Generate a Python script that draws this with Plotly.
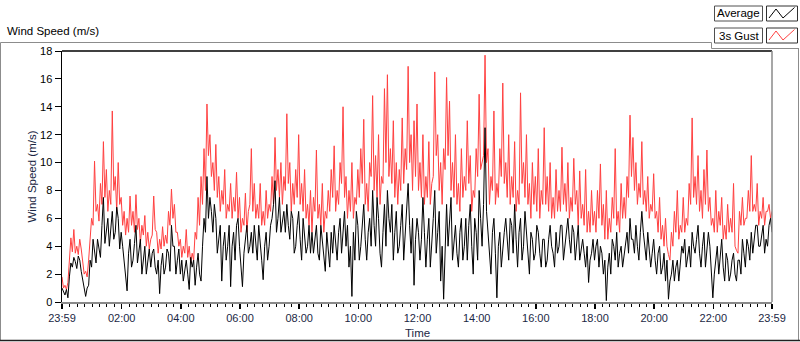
import pandas as pd
import plotly.graph_objects as go

# ---------------- data ----------------
# samples every 3 minutes from 23:59; "_a" = values at 23:59 + 6k min, "_b" = values 3 min later
start_time = "2000-01-01 23:59"
interval = "3min"

avg_a = [
    1.0, 0.5, 0.3, 2.8, 3.2, 2.4, 3.0, 1.5, 0.4, 1.2,
    2.5, 3.5, 4.5, 3.2, 7.5, 5.0, 4.0, 6.5, 5.0, 6.0,
    5.0, 3.0, 0.8, 4.5, 3.0, 5.5, 3.5, 2.0, 4.0, 2.8,
    2.5, 3.8, 2.0, 0.6, 3.5, 2.5, 3.5, 5.5, 4.0, 3.0,
    2.0, 1.5, 3.0, 0.9, 2.5, 1.2, 3.5, 1.5, 6.0, 9.0,
    7.5, 5.0, 6.0, 4.5, 1.5, 5.0, 4.0, 1.1, 5.0, 5.5,
    4.0, 1.1, 4.5, 3.5, 5.0, 5.5, 3.0, 4.5, 1.6, 5.0,
    4.0, 6.0, 8.7, 6.0, 5.0, 6.5, 7.0, 4.5, 6.0, 4.0,
    6.5, 3.0, 5.0, 4.0, 3.5, 3.5, 5.5, 3.0, 4.5, 2.2,
    4.0, 5.0, 5.5, 3.0, 6.0, 5.0, 4.0, 2.5, 0.4, 3.0,
    5.5, 4.0, 7.0, 3.0, 6.0, 8.0, 4.0, 6.0, 2.5, 7.0,
    8.0, 5.0, 3.0, 6.5, 4.0, 7.0, 5.0, 8.5, 3.5, 1.2,
    6.0, 3.0, 7.5, 2.5, 6.0, 4.0, 8.0, 5.0, 1.5, 0.2,
    7.0, 6.0, 3.0, 5.5, 2.5, 6.0, 4.0, 3.0, 7.0, 2.0,
    5.0, 8.0, 4.0, 12.5, 5.0, 2.0, 6.0, 0.3, 5.0, 4.0,
    6.0, 3.0, 5.5, 7.0, 2.5, 6.0, 4.0, 5.0, 2.0, 4.5,
    3.5, 5.0, 2.5, 4.5, 3.0, 5.5, 3.5, 5.0, 4.0, 5.5,
    4.0, 6.0, 3.5, 5.0, 4.0, 3.0, 4.5, 2.5, 1.4, 3.5,
    3.0, 4.5, 4.0, 2.0, 0.1, 3.5, 4.5, 3.0, 2.5, 4.0,
    3.5, 5.0, 6.0, 4.5, 5.5, 3.0, 6.5, 4.0, 5.0, 2.5,
    4.5, 2.0, 4.0, 2.5, 1.5, 0.2, 2.0, 1.5, 3.0, 2.5,
    3.5, 2.5, 4.0, 5.0, 3.5, 5.5, 2.5, 5.0, 3.5, 4.0,
    0.3, 3.0, 2.0, 4.5, 1.5, 3.0, 2.0, 3.5, 1.5, 3.0,
    4.5, 2.5, 4.0, 5.0, 4.5, 5.5, 4.0, 5.5, 4.5, 5.5, 5.0,
]
avg_b = [
    0.7, 0.9, 1.8, 2.5, 2.9, 3.3, 2.2, 0.8, 1.0, 3.0,
    4.5, 2.8, 3.8, 5.5, 4.2, 6.0, 5.2, 4.5, 6.8, 3.8,
    4.0, 2.2, 3.5, 2.5, 4.2, 2.8, 4.5, 3.2, 2.0, 3.8,
    3.5, 2.5, 3.0, 2.6, 2.0, 3.8, 2.2, 4.0, 2.0, 3.8,
    3.0, 2.5, 2.0, 3.2, 3.0, 2.5, 2.0, 4.0, 5.0, 6.0,
    6.5, 7.0, 3.5, 5.5, 4.0, 3.0, 5.5, 4.0, 3.0, 6.0,
    2.5, 3.5, 5.5, 4.0, 3.5, 4.5, 5.5, 3.0, 4.0, 3.0,
    5.5, 7.0, 5.0, 7.5, 6.0, 5.0, 5.5, 6.5, 3.5, 5.5,
    4.5, 6.0, 3.5, 5.5, 5.0, 4.5, 3.5, 5.5, 3.5, 5.0,
    2.5, 3.5, 4.5, 5.0, 3.5, 6.5, 5.5, 4.0, 5.0, 6.5,
    3.0, 5.5, 4.5, 5.0, 4.0, 5.5, 7.5, 3.5, 5.0, 4.0,
    6.0, 7.0, 5.0, 3.5, 5.5, 3.0, 6.5, 5.5, 6.0, 4.5,
    5.0, 4.5, 5.0, 4.5, 2.5, 6.0, 3.5, 6.5, 4.0, 4.5,
    4.0, 7.5, 4.5, 3.5, 5.0, 3.0, 6.0, 5.5, 4.0, 6.0,
    3.0, 6.0, 7.0, 6.5, 3.5, 5.0, 3.5, 4.0, 2.5, 5.0,
    4.5, 6.0, 3.5, 4.5, 5.0, 3.0, 6.5, 3.5, 5.0, 3.0,
    5.5, 3.5, 4.5, 2.5, 4.5, 4.0, 2.5, 3.5, 5.5, 3.0,
    5.0, 4.5, 5.5, 3.0, 5.5, 4.0, 3.5, 4.0, 3.0, 4.5,
    4.0, 2.5, 3.5, 3.0, 2.5, 2.0, 4.0, 5.0, 3.5, 2.5,
    4.5, 3.5, 4.5, 3.5, 4.0, 5.0, 5.0, 3.0, 4.0, 3.5,
    3.0, 3.5, 2.0, 3.5, 3.0, 1.5, 3.0, 2.5, 1.5, 4.0,
    4.5, 3.5, 2.5, 4.0, 4.5, 3.5, 4.0, 2.5, 5.0, 2.5,
    2.0, 4.0, 3.5, 2.5, 3.5, 1.5, 3.0, 2.0, 3.0, 2.0,
    3.5, 4.5, 3.0, 3.5, 5.5, 4.0, 5.0, 3.5, 4.0, 6.0,
]

gust_a = [
    1.8, 1.2, 1.4, 4.6, 5.2, 4.0, 4.5, 2.8, 2.2, 3.0,
    6.0, 10.1, 7.0, 8.5, 11.5, 9.5, 8.0, 13.7, 9.0, 10.0,
    7.5, 6.5, 6.0, 7.6, 6.5, 7.7, 6.0, 5.5, 6.2, 5.0,
    4.5, 7.6, 5.0, 4.5, 5.4, 4.8, 6.5, 8.1, 7.0, 5.0,
    4.5, 4.0, 5.2, 4.0, 3.5, 5.0, 7.5, 9.0, 11.0, 14.2,
    12.0, 10.0, 11.3, 9.0, 8.0, 9.5, 7.0, 8.5, 7.5, 9.3,
    7.5, 6.0, 7.8, 6.5, 11.0, 8.5, 7.0, 8.5, 6.5, 8.0,
    7.0, 9.0, 11.8, 9.5, 10.0, 9.0, 13.5, 10.0, 8.5, 9.5,
    12.0, 8.5, 9.5, 7.0, 8.0, 7.5, 10.9, 7.0, 8.5, 6.5,
    8.0, 9.5, 11.2, 8.0, 10.0, 14.0, 9.0, 8.0, 10.0, 7.5,
    9.5, 11.0, 13.1, 8.5, 10.0, 14.8, 10.5, 12.0, 9.0, 15.3,
    16.3, 11.0, 13.0, 10.0, 9.5, 13.2, 11.0, 16.9, 12.0, 13.0,
    14.2, 10.0, 12.0, 9.0, 11.5, 8.5, 16.5, 12.0, 10.0, 11.0,
    16.1, 14.4, 10.0, 12.0, 8.5, 11.0, 9.0, 13.0, 10.5, 8.0,
    11.0, 14.9, 10.0, 17.7, 11.0, 9.0, 13.7, 8.5, 11.0, 15.7,
    10.0, 12.0, 9.0, 11.5, 8.0, 15.0, 10.0, 12.0, 8.5, 10.0,
    9.0, 11.0, 8.0, 12.5, 9.0, 10.0, 7.5, 9.5, 8.0, 11.1,
    8.5, 10.0, 7.5, 10.3, 8.0, 9.4, 7.0, 9.5, 6.5, 8.0,
    6.5, 8.0, 9.9, 7.0, 8.0, 6.0, 7.5, 11.0, 6.5, 8.5,
    7.5, 9.0, 13.4, 11.8, 10.0, 8.5, 11.5, 8.0, 9.0, 7.0,
    9.2, 6.5, 7.5, 5.5, 6.0, 3.4, 5.0, 6.5, 8.0, 5.5,
    7.5, 6.0, 8.5, 13.2, 9.0, 10.5, 8.0, 9.5, 10.9, 7.5,
    6.0, 8.0, 6.5, 7.5, 5.5, 7.0, 6.0, 8.5, 3.7, 6.5,
    7.5, 6.0, 8.0, 10.5, 7.0, 8.5, 6.5, 7.5, 6.5, 7.0, 6.5,
]
gust_b = [
    1.0, 0.9, 3.0, 3.6, 3.5, 3.4, 3.8, 2.0, 1.8, 4.5,
    5.5, 6.5, 5.8, 7.0, 7.5, 6.5, 7.0, 8.0, 6.5, 7.0,
    5.5, 4.8, 5.0, 5.5, 5.0, 5.2, 4.2, 4.8, 4.0, 3.8,
    4.8, 5.2, 3.5, 3.8, 4.0, 4.2, 5.5, 6.0, 5.0, 4.0,
    3.2, 3.5, 3.2, 2.8, 3.0, 4.5, 5.5, 7.0, 8.0, 10.5,
    9.0, 8.0, 7.5, 6.5, 7.0, 6.0, 6.5, 6.0, 6.5, 6.0,
    5.0, 5.5, 5.0, 7.0, 6.5, 6.0, 6.0, 5.5, 5.5, 6.0,
    6.5, 7.0, 8.0, 7.5, 7.0, 8.0, 8.5, 6.5, 7.0, 7.5,
    7.0, 6.5, 6.0, 5.5, 5.0, 6.5, 6.0, 5.5, 5.0, 6.0,
    6.5, 7.5, 6.5, 7.0, 8.5, 7.5, 6.0, 6.5, 6.0, 7.0,
    7.5, 8.5, 7.0, 6.5, 9.0, 8.0, 7.5, 7.0, 8.5, 10.0,
    9.0, 8.5, 7.5, 7.0, 8.0, 8.5, 9.5, 10.0, 8.0, 9.0,
    8.0, 7.5, 7.0, 7.5, 7.0, 9.0, 10.5, 8.0, 7.0, 9.5,
    10.5, 8.0, 7.5, 7.0, 6.5, 7.5, 8.0, 8.5, 6.5, 7.5,
    9.0, 9.5, 10.5, 10.0, 7.0, 8.0, 7.0, 7.5, 9.0, 8.5,
    7.5, 7.0, 7.5, 6.5, 7.0, 8.5, 7.5, 7.0, 6.0, 7.0,
    6.5, 6.0, 7.0, 7.0, 6.5, 6.0, 6.0, 6.5, 6.5, 7.0,
    6.5, 6.0, 6.5, 7.0, 5.5, 6.0, 5.5, 5.0, 5.0, 5.5,
    5.0, 6.0, 5.5, 4.5, 4.5, 5.0, 6.0, 5.5, 5.0, 6.0,
    6.0, 7.5, 9.0, 8.0, 7.0, 7.5, 7.0, 6.5, 6.0, 6.5,
    6.0, 5.0, 4.5, 4.0, 4.0, 3.0, 4.0, 5.0, 4.5, 5.0,
    5.0, 5.5, 7.0, 7.5, 7.0, 6.5, 6.0, 7.0, 6.5, 5.5,
    5.0, 5.0, 5.5, 4.5, 4.5, 5.0, 5.0, 4.0, 3.5, 5.5,
    5.5, 6.0, 6.5, 6.5, 6.5, 5.5, 6.0, 5.5, 6.5, 6.0,
]

x_tick_vals = ["2000-01-01 23:59", "2000-01-02 02:00", "2000-01-02 04:00", "2000-01-02 06:00",
               "2000-01-02 08:00", "2000-01-02 10:00", "2000-01-02 12:00", "2000-01-02 14:00",
               "2000-01-02 16:00", "2000-01-02 18:00", "2000-01-02 20:00", "2000-01-02 22:00",
               "2000-01-02 23:59"]
x_tick_text = ["23:59", "02:00", "04:00", "06:00", "08:00", "10:00", "12:00", "14:00",
               "16:00", "18:00", "20:00", "22:00", "23:59"]
y_tick_vals = [0, 2, 4, 6, 8, 10, 12, 14, 16, 18]

series_names = ["Average", "3s Gust"]


def merge(a, b):
    out = []
    for i, v in enumerate(a):
        out.append(v)
        if i < len(b):
            out.append(b[i])
    return out


avg = merge(avg_a, avg_b)
gust = merge(gust_a, gust_b)
times = pd.date_range(start_time, periods=len(avg), freq=interval)

# ---------------- figure ----------------
W, H = 800, 342
L, R, T, B = 62, 772, 51, 302
PW, PH = R - L, B - T


def px(x):
    return (x - L) / PW


def py(y):
    return (B - y) / PH


FONT = "Liberation Sans, Arial, sans-serif"
RED = "#ff4040"
NAVY = "#1b2744"

fig = go.Figure()
fig.add_trace(go.Scatter(x=times, y=gust, mode="lines", name=series_names[1],
                         line=dict(color=RED, width=1), showlegend=False, hoverinfo="skip"))
fig.add_trace(go.Scatter(x=times, y=avg, mode="lines", name=series_names[0],
                         line=dict(color="#000000", width=1), showlegend=False, hoverinfo="skip"))

shapes = []
# plot frame: top black, right grey
shapes.append(dict(type="line", xref="paper", yref="paper", x0=0, x1=1, y0=1, y1=1,
                   line=dict(color="#000000", width=1.5)))
shapes.append(dict(type="line", xref="paper", yref="paper", x0=1, x1=1, y0=0, y1=1,
                   line=dict(color="#8a8a8a", width=1.5)))
# outer frame
frame_col = "#8c8c8c"
shapes.append(dict(type="path", xref="paper", yref="paper",
                   path=f"M {px(0.5)},{py(42.5)} L {px(711.5)},{py(42.5)} L {px(711.5)},{py(48.5)} "
                        f"L {px(799)},{py(48.5)}",
                   line=dict(color=frame_col, width=1)))
shapes.append(dict(type="line", xref="paper", yref="paper", x0=px(0.5), x1=px(0.5),
                   y0=py(42.5), y1=py(341), line=dict(color=frame_col, width=1)))
shapes.append(dict(type="line", xref="paper", yref="paper", x0=px(798.5), x1=px(798.5),
                   y0=py(48.5), y1=py(341), line=dict(color=frame_col, width=1)))
shapes.append(dict(type="line", xref="paper", yref="paper", x0=px(0), x1=px(800),
                   y0=py(340.5), y1=py(340.5), line=dict(color="#202020", width=1.5)))

# custom legend boxes (text left, line icon right, as in the reference)
rows = [(6, 21, "#000000"), (28, 43, RED)]
for (y0, y1, col) in rows:
    shapes.append(dict(type="rect", xref="paper", yref="paper",
                       x0=px(714.5), x1=px(762.5), y0=py(y1), y1=py(y0),
                       line=dict(color="#505050", width=1), fillcolor="white"))
    shapes.append(dict(type="rect", xref="paper", yref="paper",
                       x0=px(766.5), x1=px(797.5), y0=py(y1), y1=py(y0),
                       line=dict(color="#303030", width=1), fillcolor="white"))
    zig = [(769, y1 - 3), (776, y0 + 3), (783, y1 - 3), (794.5, y0 + 1.5)]
    path = "M " + " L ".join(f"{px(a)},{py(b)}" for a, b in zig)
    shapes.append(dict(type="path", xref="paper", yref="paper", path=path,
                       line=dict(color=col, width=1)))

annotations = [
    dict(text="Wind Speed (m/s)", x=px(5), y=py(31), xref="paper", yref="paper",
         xanchor="left", yanchor="middle", showarrow=False,
         font=dict(family=FONT, size=11.5, color="#000000")),
    dict(text="Wind Speed (m/s)", x=px(31), y=0.5, xref="paper", yref="paper",
         xanchor="center", yanchor="middle", textangle=-90, showarrow=False,
         font=dict(family=FONT, size=11.5, color=NAVY)),
    dict(text="Time", x=0.5, y=py(333), xref="paper", yref="paper",
         xanchor="center", yanchor="middle", showarrow=False,
         font=dict(family=FONT, size=11.5, color=NAVY)),
    dict(text=series_names[0], x=px(738.5), y=py(13.5), xref="paper", yref="paper",
         xanchor="center", yanchor="middle", showarrow=False,
         font=dict(family=FONT, size=11.5, color="#000000")),
    dict(text=series_names[1], x=px(738.5), y=py(35.5), xref="paper", yref="paper",
         xanchor="center", yanchor="middle", showarrow=False,
         font=dict(family=FONT, size=11.5, color="#000000")),
]

fig.update_layout(
    width=W, height=H, autosize=False,
    margin=dict(l=L, r=W - R, t=T, b=H - B, pad=0),
    paper_bgcolor="white", plot_bgcolor="white",
    showlegend=False, hovermode=False,
    shapes=shapes, annotations=annotations,
    xaxis=dict(
        type="date",
        range=[x_tick_vals[0], x_tick_vals[-1]],
        tickmode="array", tickvals=x_tick_vals, ticktext=x_tick_text,
        ticks="outside", ticklen=5, tickwidth=1.5, tickcolor="#000000",
        tickfont=dict(family=FONT, size=11, color=NAVY),
        showline=True, linecolor="#8a8a8a", linewidth=1.5,
        showgrid=False, zeroline=False, fixedrange=True,
        minor=dict(ticks="outside", ticklen=3, tickwidth=1, tickcolor="#000000",
                   dtick=15 * 60 * 1000, tick0="2000-01-02 00:00", showgrid=False),
    ),
    yaxis=dict(
        range=[0, 18],
        tickmode="array", tickvals=y_tick_vals,
        ticks="outside", ticklen=6, tickwidth=1, tickcolor="#000000",
        tickfont=dict(family=FONT, size=11, color="#000000"),
        showline=True, linecolor="#000000", linewidth=1.5,
        showgrid=False, zeroline=False, fixedrange=True,
    ),
)

fig.write_html("out.html", config={"displayModeBar": False, "staticPlot": True},
               post_script="document.body.style.margin='0';document.body.style.overflow='hidden';")
